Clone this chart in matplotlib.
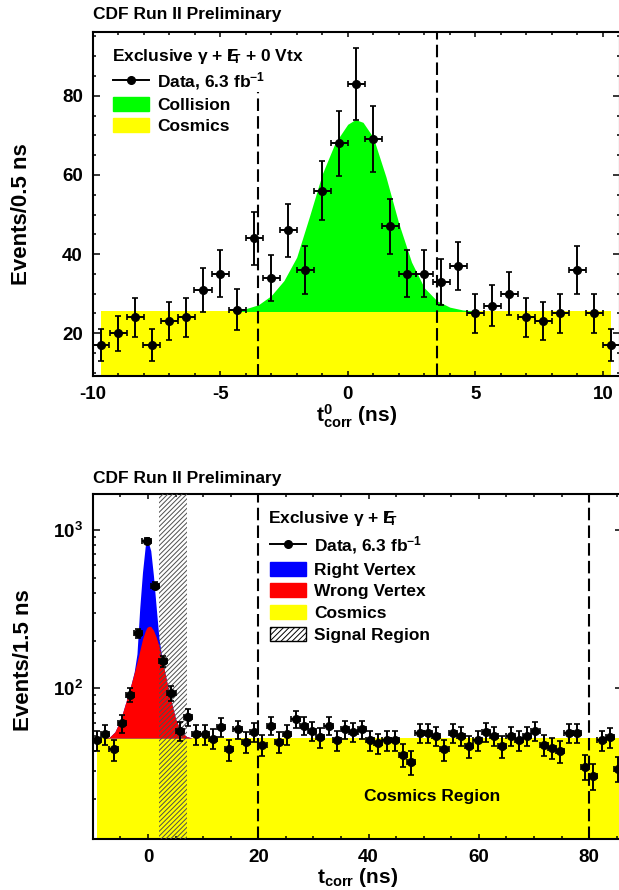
import numpy as np
import matplotlib
matplotlib.use("Agg")
import matplotlib.pyplot as plt
from matplotlib.lines import Line2D
from matplotlib.patches import Patch

plt.rcParams['font.family'] = ['Liberation Sans', 'DejaVu Sans']
plt.rcParams['font.weight'] = 'bold'
plt.rcParams['mathtext.fontset'] = 'custom'
plt.rcParams['mathtext.rm'] = 'Liberation Sans:bold'
plt.rcParams['mathtext.it'] = 'Liberation Sans:bold:italic'
plt.rcParams['mathtext.bf'] = 'Liberation Sans:bold'
plt.rcParams['axes.unicode_minus'] = False
plt.rcParams['hatch.linewidth'] = 0.7

# ---- top panel: exclusive gamma + MET + 0 vertex, t0_corr ----
top_centers = [-9.67, -9.0, -8.33, -7.67, -7.0, -6.33, -5.67, -5.0, -4.33, -3.67,
               -3.0, -2.33, -1.67, -1.0, -0.33, 0.33, 1.0, 1.67, 2.33, 3.0,
               3.67, 4.33, 5.0, 5.67, 6.33, 7.0, 7.67, 8.33, 9.0, 9.67, 10.33]
top_counts = [17, 20, 24, 17, 23, 24, 31, 35, 26, 44,
              34, 46, 36, 56, 68, 83, 69, 47, 35, 35,
              33, 37, 25, 27, 30, 24, 23, 25, 36, 25, 17]
top_halfbin = 1.0 / 3
top_cosmics = 25.5
# collision + cosmics template
coll_x = [-4.5, -4.0, -3.5, -3.0, -2.5, -2.0, -1.5, -1.0, -0.5, 0.0, 0.3,
          0.6, 1.0, 1.5, 2.0, 2.5, 3.0, 3.5, 4.0, 4.5, 5.0]
coll_y = [25.8, 26.2, 27.2, 29.5, 33.3, 39.2, 49.5, 60.2, 68.0, 72.8, 74.0,
          73.3, 69.5, 59.5, 47.8, 38.0, 31.5, 28.2, 26.6, 25.9, 25.6]
top_cuts = [-3.5, 3.5]

# ---- bottom panel: exclusive gamma + MET, t_corr ----
bot_centers = [-9.25, -7.75, -6.25, -4.75, -3.25, -1.75, -0.25, 1.25, 2.75, 4.25,
               5.75, 7.25, 8.75, 10.25, 11.75, 13.25, 14.75, 16.25, 17.75, 19.25,
               20.75, 22.25, 23.75, 25.25, 26.75, 28.25, 29.75, 31.25, 32.75, 34.25,
               35.75, 37.25, 38.75, 40.25, 41.75, 43.25, 44.75, 46.25, 47.75, 49.25,
               50.75, 52.25, 53.75, 55.25, 56.75, 58.25, 59.75, 61.25, 62.75, 64.25,
               65.75, 67.25, 68.75, 70.25, 71.75, 73.25, 74.75, 76.25, 77.75, 79.25,
               80.75, 82.25, 83.75, 85.25]
bot_counts = [47, 51, 41, 60, 91, 223, 857, 445, 148, 93,
              54, 66, 51, 51, 48, 57, 41, 55, 46, 53,
              44, 58, 46, 51, 64, 58, 54, 49, 58, 47,
              55, 53, 55, 47, 45, 47, 47, 38, 34, 52,
              52, 50, 41, 52, 50, 43, 47, 53, 50, 43,
              50, 47, 50, 54, 44, 42, 40, 52, 52, 32,
              28, 47, 49, 31]
bot_halfbin = 0.75
bot_cosmics = 48.5
vtx_x = [-8, -7, -6, -5, -4, -3, -2.5, -2, -1.5, -1, -0.5, -0.2, 0.1, 0.5,
         1, 1.5, 2, 2.5, 3, 4, 5, 6, 7, 8]
wrong_vtx = [48.5, 49, 53, 63, 82, 108, 125, 146, 172, 204, 230, 242, 246, 246,
             232, 210, 184, 155, 128, 88, 64, 53, 49.5, 48.5]
right_vtx = [48.5, 49, 53, 63, 82, 108, 127, 165, 320, 540, 790, 845, 825, 740,
             510, 320, 205, 158, 128, 88, 64, 53, 49.5, 48.5]
signal_region = [2, 7]
cosmics_region = [20, 80]

fig = plt.figure(figsize=(6.19, 8.90), dpi=100)
W, H = 619.0, 890.0
ax1 = fig.add_axes([92.5 / W, 1 - 376 / H, (620 - 92.5) / W, (376 - 31.7) / H])
ax2 = fig.add_axes([92.85 / W, 1 - 839.3 / H, (622.3 - 92.85) / W, (839.3 - 494.3) / H])

ebkw = dict(fmt='o', color='black', ms=5.5, elinewidth=1.4, capsize=2, capthick=1.2, zorder=10)
dash = (0, (6, 2.5))

# top
ax1.fill_between([top_centers[0], top_centers[-1]], 0, top_cosmics, color='#ffff00', lw=0, zorder=1)
ax1.fill_between(coll_x, top_cosmics, coll_y, color='#00ff00', lw=0, zorder=2)
ax1.errorbar(top_centers, top_counts, yerr=np.sqrt(top_counts), xerr=top_halfbin, **ebkw)
ax1.plot([top_cuts[0]] * 2, [0, 81], color='black', lw=1.5, ls=dash, zorder=5)
ax1.axvline(top_cuts[1], color='black', lw=1.5, ls=dash, zorder=5)
ax1.set_xlim(-10, 10.67)
ax1.set_ylim(9.2, 96.2)
ax1.set_xticks([-10, -5, 0, 5, 10])
ax1.set_xticks(np.arange(-10, 11, 1), minor=True)
ax1.set_yticks([20, 40, 60, 80])
ax1.set_yticks(np.arange(10, 96, 5), minor=True)

# bottom
ax2.set_yscale('log')
ax2.fill_between([bot_centers[0], 86], 1, bot_cosmics, color='#ffff00', lw=0, zorder=1)
ax2.fill_between(vtx_x, bot_cosmics, right_vtx, color='#0000ff', lw=0, zorder=2)
ax2.fill_between(vtx_x, bot_cosmics, wrong_vtx, color='#ff0000', lw=0, zorder=3)
ax2.axvspan(signal_region[0], signal_region[1], facecolor='none', edgecolor='0.3',
            hatch='///////', lw=0, zorder=4)
ax2.errorbar(bot_centers, bot_counts, yerr=np.sqrt(bot_counts), xerr=bot_halfbin, **ebkw)
for xc in cosmics_region:
    ax2.axvline(xc, color='black', lw=1.5, ls=dash, zorder=5)
ax2.text(51.5, 20.6, 'Cosmics Region', ha='center', va='center', fontsize=12.5, fontweight='bold', zorder=6)
ax2.set_xlim(-10, 86)
ax2.set_ylim(11.1, 1680)
ax2.set_xticks([0, 20, 40, 60, 80])
ax2.set_xticks(np.arange(-10, 86, 5), minor=True)

for ax in (ax1, ax2):
    for s in ax.spines.values():
        s.set_linewidth(1.5)
    ax.tick_params(which='both', direction='in', top=True, right=True, width=1.1,
                   labelsize=13.5, pad=7)
    ax.tick_params(axis='y', which='major', length=5)
    ax.tick_params(axis='y', which='minor', length=2.5)
    ax.tick_params(axis='x', which='major', length=3.6)
    ax.tick_params(axis='x', which='minor', length=2)
    for lab in ax.get_xticklabels() + ax.get_yticklabels():
        lab.set_fontweight('bold')

ax1.set_ylabel('Events/0.5 ns', fontsize=16, fontweight='bold')
ax1.yaxis.set_label_coords(-0.115, 0.47)
ax1.set_xlabel(r'$\mathrm{t}^{0}_{\mathrm{corr}}$ (ns)', fontsize=15, fontweight='bold')
ax1.xaxis.label.set_va('center')
ax1.xaxis.set_label_coords(0.5, -0.118)
ax2.set_ylabel('Events/1.5 ns', fontsize=16, fontweight='bold')
ax2.yaxis.set_label_coords(-0.111, 0.52)
ax2.set_xlabel(r'$\mathrm{t}_{\mathrm{corr}}$ (ns)', fontsize=15, fontweight='bold')
ax2.xaxis.label.set_va('center')
ax2.xaxis.set_label_coords(0.5, -0.112)

fig.text(93 / W, 1 - 15 / H, 'CDF Run II Preliminary', va='center', fontsize=12.5, fontweight='bold')
fig.text(93 / W, 1 - 478 / H, 'CDF Run II Preliminary', va='center', fontsize=12.5, fontweight='bold')

met = r'$\mathrm{E\!\!\!\!/}_{\mathrm{T}}$'
fig.text(112 / W, 1 - 56 / H, r'Exclusive $\mathrm{\gamma}$ + ' + met + ' + 0 Vtx', va='center',
         fontsize=12.5, fontweight='bold')
fig.text(268 / W, 1 - 518 / H, r'Exclusive $\mathrm{\gamma}$ + ' + met, va='center',
         fontsize=12.5, fontweight='bold')

data_h = Line2D([], [], color='black', marker='o', ms=5.5, lw=1.4)
data_lab = r'Data, 6.3 fb$^{\mathrm{-1}}$'
legkw = dict(loc='upper left', bbox_transform=fig.transFigure, frameon=False,
             borderpad=0, borderaxespad=0, handlelength=2.07, handleheight=0.86,
             handletextpad=0.46, prop={'size': 12.5, 'weight': 'bold'})
ax1.legend([data_h, Patch(color='#00ff00'), Patch(color='#ffff00')],
           [data_lab, 'Collision', 'Cosmics'], labelspacing=0.3,
           bbox_to_anchor=(113 / W, 1 - 70 / H), **legkw)
ax2.legend([data_h, Patch(color='#0000ff'), Patch(color='#ff0000'), Patch(color='#ffff00'),
            Patch(facecolor='white', edgecolor='black', hatch='//////', lw=1)],
           [data_lab, 'Right Vertex', 'Wrong Vertex', 'Cosmics', 'Signal Region'],
           labelspacing=0.33, bbox_to_anchor=(270 / W, 1 - 534 / H), **legkw)

fig.savefig('out.png', dpi=100)
